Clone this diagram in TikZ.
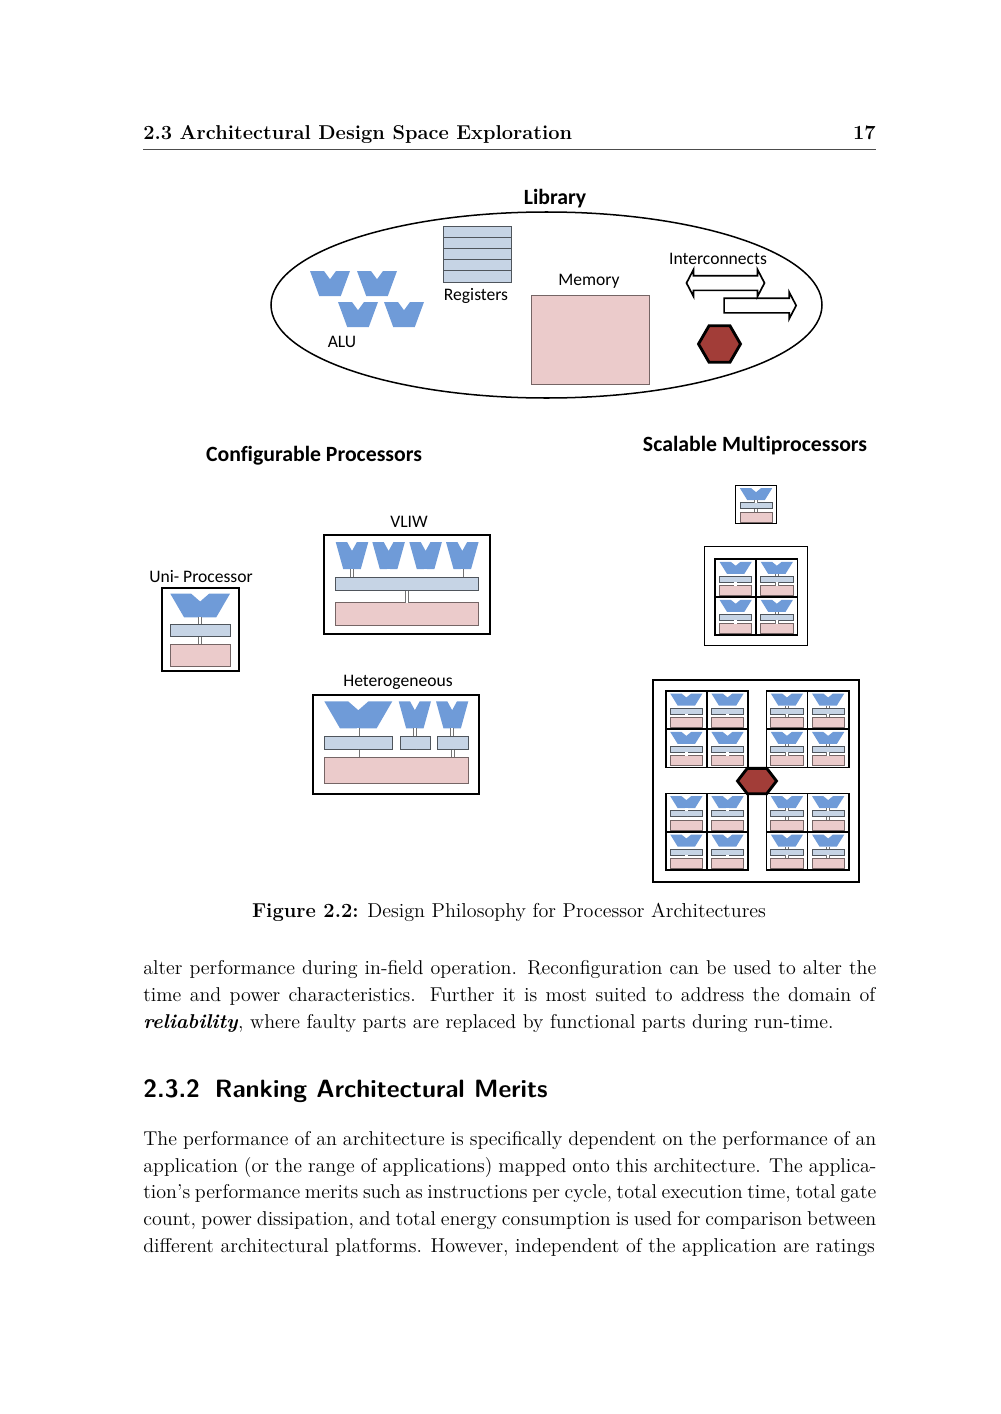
\documentclass[tikz,border=0pt]{standalone}
\usepackage{fontspec}
\newfontfamily\figfont[Ligatures=NoCommon]{Carlito}
\usepackage{xcolor}
\usetikzlibrary{positioning,arrows.meta,shapes.geometric,shapes.arrows,calc}
\definecolor{alublue}{HTML}{6F9BD8}
\definecolor{regblue}{HTML}{C6D4E5}
\definecolor{memrose}{HTML}{EBCBCB}
\definecolor{hexred}{HTML}{A23D38}
\newcommand{\pxu}{0.021cm}
\begin{document}
\begin{tikzpicture}[
  x=0.021cm, y=-0.021cm,
  block/.style 2 args={rectangle, anchor=north west, inner sep=0pt, outer sep=0pt, minimum width=#1*\pxu, minimum height=#2*\pxu},
  regbox/.style 2 args={block={#1}{#2}, draw=black!60!regblue, fill=regblue, line width=0.4pt},
  membox/.style 2 args={block={#1}{#2}, draw=black!50!memrose, fill=memrose, line width=0.4pt},
  frame/.style 2 args={block={#1}{#2}, draw=black, line width=1.4pt},
  cellbox/.style 2 args={block={#1}{#2}, draw=black, line width=0.95pt},
  alu/.style 2 args={block={#1}{#2}, path picture={
    \begin{scope}[name prefix=]
    \coordinate (tl) at (path picture bounding box.north west);
    \coordinate (tr) at (path picture bounding box.north east);
    \coordinate (bl) at (path picture bounding box.south west);
    \coordinate (br) at (path picture bounding box.south east);
    \fill[alublue] (tl) -- ($(tl)!.35!(tr)$) -- ($($(tl)!.5!(tr)$)!.33!($(bl)!.5!(br)$)$) -- ($(tl)!.65!(tr)$) -- (tr) -- ($(bl)!.77!(br)$) -- ($(bl)!.23!(br)$) -- cycle;
    \end{scope}}},
  hexnode/.style={regular polygon, regular polygon sides=6, draw=black, fill=hexred, inner sep=0pt, outer sep=0pt, minimum size=#1*\pxu},
  lbl/.style={font=\figfont\fontsize{10.5}{12}\selectfont, inner sep=0pt},
  headline/.style={font=\figfont\bfseries\fontsize{13}{15}\selectfont, inner sep=0pt},
  para/.style={anchor=north west, inner sep=0pt, text width=733*\pxu, align=justify, font=\fontsize{11.95}{15.95}\selectfont},
  bus/.style={draw=black!55, double=white, double distance=1.4pt, line width=0.35pt},
  cell/.pic={
    \node[cellbox={41.2}{38.2}] (-frame) at (0,0) {};
    \node[alu={32.3}{12}] (-alu) at (4.5,2.8) {};
    \node[regbox={32.3}{6}] (-reg) at (4.5,17.3) {};
    \node[membox={32.3}{10}] (-mem) at (4.5,26.6) {};
    \draw[bus] (-alu.south) -- (-reg.north);
    \draw[bus] (-reg.south) -- (-mem.north);
  }
]
\useasboundingbox (0,0) rectangle (1000,1414);

% page head
\node[anchor=base west, inner sep=0pt, font=\bfseries\fontsize{11.97}{14}\selectfont] (pagehead) at (143,139.5) {2.3 Architectural Design Space Exploration};
\node[anchor=base east, inner sep=0pt, font=\bfseries\fontsize{12}{14}\selectfont] (pagenum) at (876,139.5) {17};
\draw[line width=0.4pt, black!70] (143,149) -- (876,149);

% library
\node[ellipse, draw=black, line width=0.9pt, inner sep=0pt, minimum width=551*\pxu, minimum height=186*\pxu] (library) at (546.5,305) {};
\node[headline] (librarytitle) at (555,198.5) {Library};
\node[alu={40}{25}] (lib1) at (310,271) {};
\node[alu={40}{25}] (lib2) at (357,271) {};
\node[alu={40}{25}] (lib3) at (338,302) {};
\node[alu={40}{25}] (lib4) at (384,302) {};
\node[lbl] (alulabel) at (342,342) {ALU};
\foreach \r in {0,...,4}
  \node[regbox={68}{11.2}] (libreg\r) at (443,226+11.2*\r) {};
\node[lbl] (reglabel) at (476,296) {Registers};
\node[lbl] (memlabel) at (589,281) {Memory};
\node[membox={118}{89}] (libmem) at (531,295) {};
\node[lbl] (netlabel) at (718,259) {Interconnects};
\node[double arrow, draw=black, line width=1pt, inner xsep=0pt, inner ysep=6.5*\pxu, minimum height=78*\pxu, minimum width=25*\pxu, double arrow head extend=6*\pxu, double arrow tip angle=125] (libbus) at (725.5,283) {};
\node[single arrow, draw=black, line width=1pt, inner xsep=0pt, inner ysep=6.5*\pxu, minimum height=72*\pxu, minimum width=25*\pxu, single arrow head extend=6*\pxu, single arrow tip angle=125, anchor=tail] (liblink) at (723.3,305.5) {};
\node[hexnode=42, line width=1.7pt] (libhex) at (719.5,344) {};

% configurable processors
\node[headline] (conftitle) at (314,456) {Configurable Processors};
\node[lbl] (unilabel) at (201,577) {Uni- Processor};
\node[frame={77.3}{83.3}] (uniframe) at (161.7,587.7) {};
\node[alu={59.7}{23.6}] (unialu) at (170.3,593.7) {};
\node[regbox={59.7}{12.4}] (unireg) at (170.3,624.3) {};
\node[membox={59.7}{22}] (unimem) at (170.3,644) {};
\draw[bus] (unialu.south) -- (unireg.north);
\draw[bus] (unireg.south) -- (unimem.north);

\node[lbl] (vliwlabel) at (409,522) {VLIW};
\node[frame={165.7}{99.3}] (vliwframe) at (324,534.7) {};
\node[regbox={143}{13.4}] (vliwreg) at (335.7,577.3) {};
\node[membox={143}{22.6}] (vliwmem) at (335.7,602.7) {};
\foreach \a/\ax in {1/335.7,2/372.3,3/409.3,4/446} {
  \node[alu={32.6}{27}] (vliwalu\a) at (\ax,542) {};
  \draw[bus] (vliwalu\a.south) -- (vliwalu\a.south |- vliwreg.north);
}
\draw[bus] (vliwreg.south) -- (vliwmem.north);

\node[lbl] (hetlabel) at (398,682) {Heterogeneous};
\node[frame={165.7}{99.3}] (hetframe) at (313.3,694.7) {};
\node[membox={144}{26}] (hetmem) at (324.3,757.3) {};
\node[alu={68}{27}] (hetalu1) at (324.3,701.3) {};
\node[alu={32.3}{27}] (hetalu2) at (398.7,701.3) {};
\node[alu={32.3}{27}] (hetalu3) at (436,701.3) {};
\node[regbox={68}{13.4}] (hetreg1) at (324.3,736.3) {};
\node[regbox={30.4}{13.4}] (hetreg2) at (400.3,736.3) {};
\node[regbox={30.6}{13.4}] (hetreg3) at (437.7,736.3) {};
\foreach \h in {1,2,3} {
  \draw[bus] (hetalu\h.south) -- (hetalu\h.south |- hetreg\h.north);
  \draw[bus] (hetreg\h.south) -- (hetreg\h.south |- hetmem.north);
}

% scalable multiprocessors
\node[headline] (scaltitle) at (755,446) {Scalable Multiprocessors};
\pic (single) at (735.4,485.4) {cell};

\node[frame={103.4}{98.6}, line width=0.9pt] (quadframe) at (704.3,546.7) {};
\foreach \c/\cx/\cy in {a/0/0,b/41.2/0,c/0/38,d/41.2/38}
  \pic (quad\c) at (715+\cx,559+\cy) {cell};

\node[frame={206}{202}] (bigframe) at (653,680) {};
\foreach \g/\gx/\gy in {1/665.7/690.7,2/766.3/690.7,3/665.7/793.3,4/766.3/793.3}
  \foreach \c/\cx/\cy in {a/0/0,b/41.2/0,c/0/38.4,d/41.2/38.4}
    \pic (big\g\c) at (\gx+\cx,\gy+\cy) {cell};
\node[hexnode=39, yscale=0.75, line width=1.7pt] (bighex) at (757,781) {};

% caption and text
\node[inner sep=0pt, font=\fontsize{12}{15}\selectfont] (caption) at (509,912) {\textbf{Figure 2.2:} Design Philosophy for Processor Architectures};
\node[para] (para1) at (143,960.5) {alter performance during in-field operation. Reconfiguration can be used to alter the\linebreak
time and power characteristics. Further it is most suited to address the domain of\linebreak
\textbf{\textit{reliability}}, where faulty parts are replaced by functional parts during run-time.\par};
\node[anchor=west, inner sep=0pt, font=\sffamily\bfseries\fontsize{14.95}{17}\selectfont] (sechead) at (143,1091) {2.3.2\hspace{0.6em}Ranking Architectural Merits};
\node[para] (para2) at (143,1131) {The performance of an architecture is specifically dependent on the performance of an\linebreak
application (or the range of applications) mapped onto this architecture. The applica-\linebreak
\hbox to \linewidth{\spaceskip=0.2em plus 0.2em tion's performance merits such as instructions per cycle, total execution time, total gate}\linebreak
count, power dissipation, and total energy consumption is used for comparison between\linebreak
different architectural platforms. However, independent of the application are ratings\par};
\end{tikzpicture}
\end{document}
